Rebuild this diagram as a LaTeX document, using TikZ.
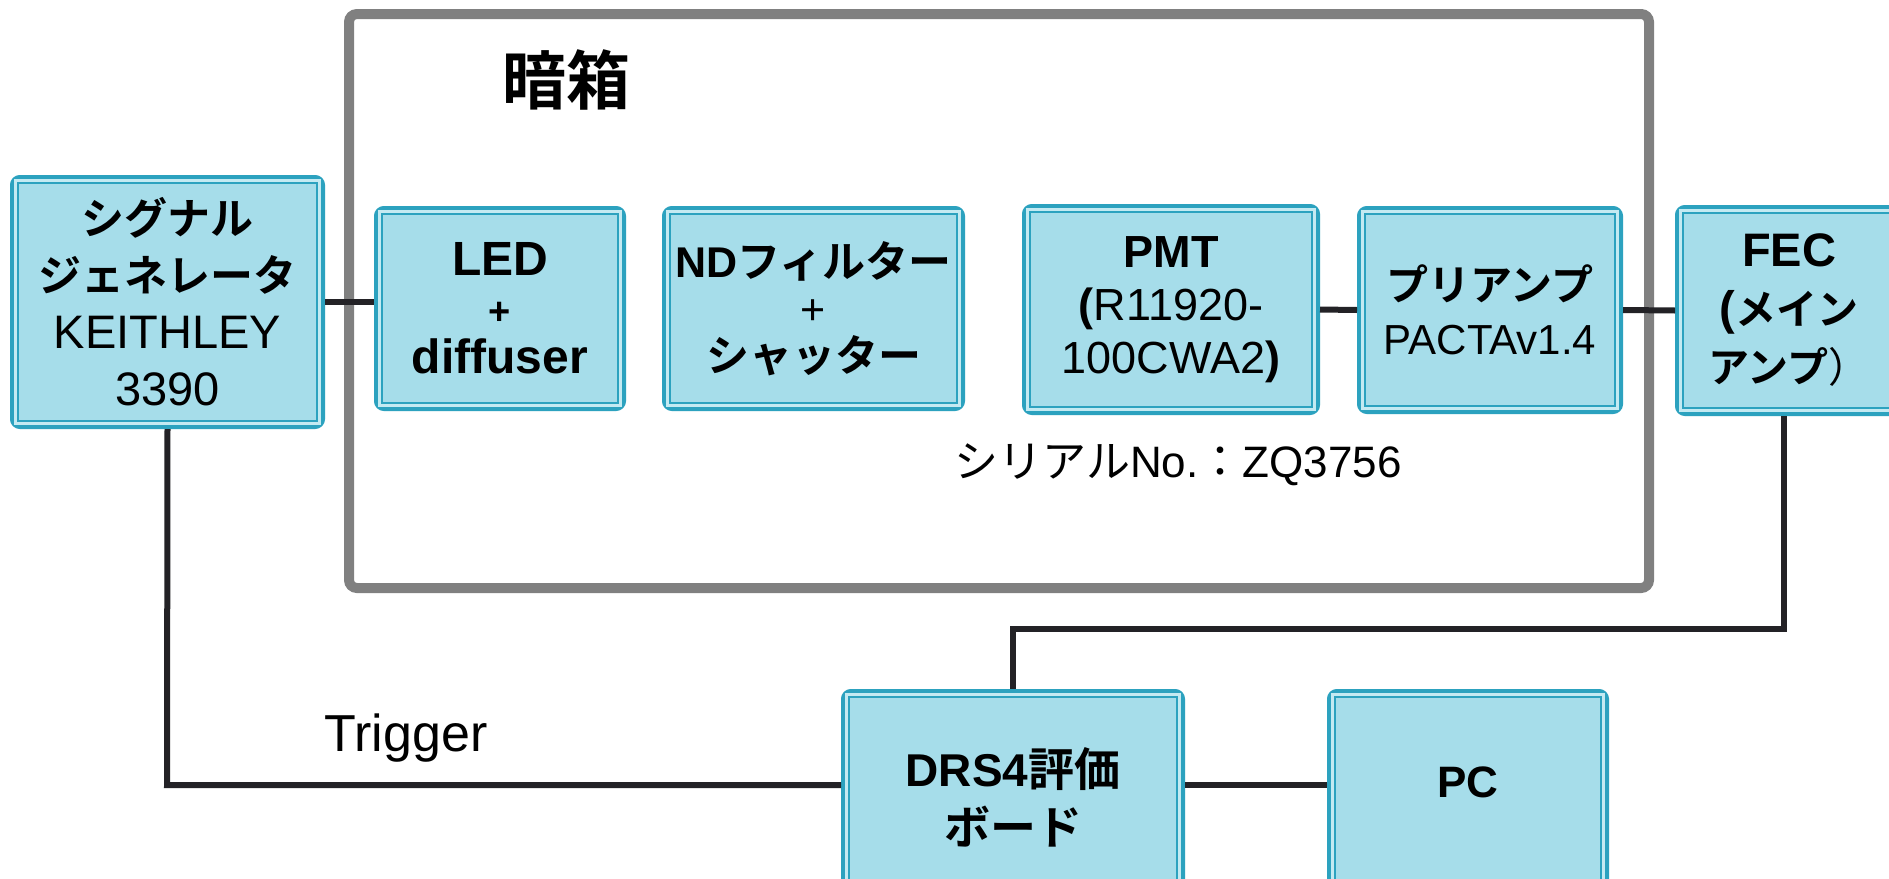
\documentclass[tikz,border=0pt]{standalone}
\usepackage{fontspec}
\setmainfont{Liberation Sans}
\newfontfamily\jp{Noto Sans CJK JP}[BoldFont={Noto Sans CJK JP Bold}]
\newcommand\J[1]{{\jp #1}}
\newcommand\fsz[1]{\fontsize{#1}{#1}\selectfont}
\definecolor{tealB}{HTML}{2CA2BF}
\definecolor{boxfill}{HTML}{A6DDEA}
\definecolor{boxlight}{HTML}{C4EAF2}
\definecolor{wire}{HTML}{232226}
\definecolor{darkgray}{HTML}{808080}
\tikzset{
  blk/.style={draw=tealB, line width=4pt, fill=boxfill, rounded corners=3pt, inner sep=0pt, align=center},
  wireline/.style={draw=wire, line width=3pt},
  fs/.style args={#1/#2}{font=\fontsize{#1}{#2}\selectfont}
}
\begin{document}
\begin{tikzpicture}[x=0.5pt,y=-0.5pt]
\clip (0,0) rectangle (1889,878);
\fill[white] (0,0) rectangle (1889,878);

% dark box
\draw[darkgray, line width=5pt, rounded corners=4pt] (349,14) rectangle (1649,588);
\node[fs=32/36] (title) at (566,80) {\bfseries\J{暗箱}};

% blocks
\node[blk, minimum width=153.5pt, minimum height=123pt, fs=23.5/28.5] (sg) at (167.5,302)
  {{\bfseries\fsz{21.5}\J{シグナル}}\\{\bfseries\fsz{21.5}\J{ジェネレータ}}\\KEITHLEY\\3390};
\node[blk, minimum width=122pt, minimum height=98.5pt, fs=24/24.5] (led) at (500,308.5)
  {\textbf{LED}\\{\bfseries\fsz{19}+}\\\textbf{diffuser}};
\node[blk, minimum width=147.5pt, minimum height=98.5pt, fs=21.5/23.5] (nd) at (813.5,308.5)
  {{\bfseries ND\J{フィルター}}\\+\\{\bfseries\J{シャッター}}};
\node[blk, minimum width=145pt, minimum height=101.5pt, fs=22.5/26.5] (pmt) at (1171,309.5)
  {\textbf{PMT}\\\textbf{(}R11920-\\100CWA2\textbf{)}};
\node[blk, minimum width=129pt, minimum height=100pt, fs=21/27] (pre) at (1490,310)
  {{\bfseries\J{プリアンプ}}\\PACTAv1.4};
\node[blk, minimum width=110pt, minimum height=101.5pt, fs=23.5/29] (fec) at (1789,310.5)
  {\textbf{FEC}\\{\bfseries (\fsz{20.5}\J{メイン}}\\{\bfseries\fsz{20.5}\J{アンプ}}{\fsz{20.5}\J{）}}};
\node[blk, minimum width=168pt, minimum height=104.5pt, fs=23/29] (drs) at (1013,797.5)
  {{\bfseries DRS4\J{評価}}\\{\bfseries\J{ボード}}};
\node[blk, minimum width=137pt, minimum height=104.5pt, fs=22/26] (pc) at (1468,797.5)
  {\raisebox{15pt}{\bfseries PC}};

\foreach \n in {sg,led,nd,pmt,pre,fec,drs,pc}{
  \draw[boxlight, line width=1.5pt] ([shift={(5.5,5.5)}]\n.north west) rectangle ([shift={(-5.5,-5.5)}]\n.south east);
  \draw[tealB, line width=1.1pt] ([shift={(8,8)}]\n.north west) rectangle ([shift={(-8,-8)}]\n.south east);
}

% labels
\node[fs=22/26] (serial) at (1178,465) {\J{シリアル}No.\J{：}ZQ3756};
\node[fs=26/30] (trig) at (406,738) {Trigger};

% connectors
\coordinate (c1) at (1784,629);
\coordinate (c2) at (167,785);
\draw[wireline] (sg.east) -- (sg.east -| led.west);
\draw[wireline] (pmt.east) -- (pre.west);
\draw[wireline] (pre.east) -- (fec.west);
\draw[wireline] (fec.south -| c1) -- (c1) -| (drs.north);
\draw[wireline] (sg.south) -- (c2) -- (c2 -| drs.west);
\draw[wireline] (c2 -| drs.east) -- (c2 -| pc.west);
\end{tikzpicture}
\end{document}
